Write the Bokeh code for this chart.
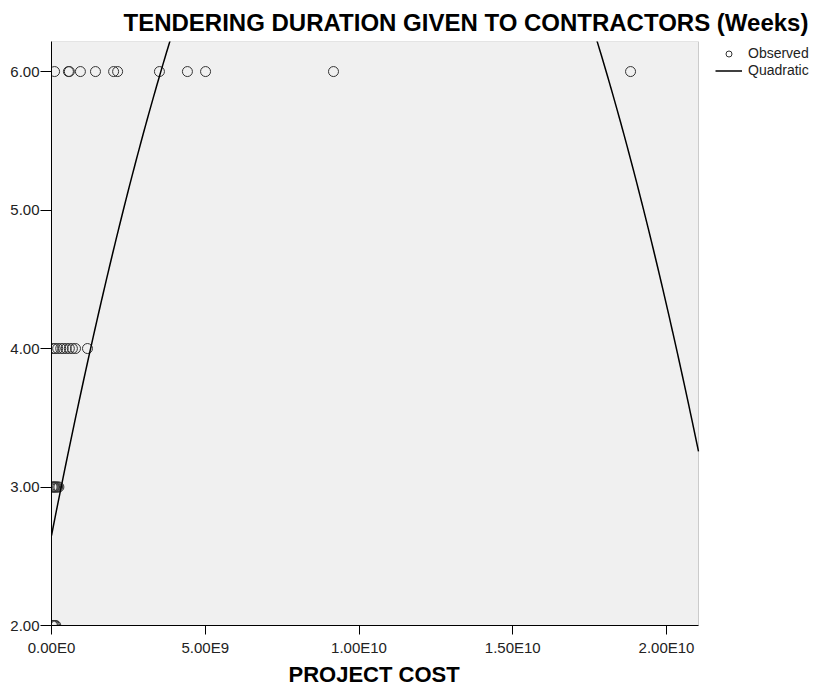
import numpy as np
from bokeh.plotting import figure
from bokeh.models import (FixedTicker, Legend, LegendItem, Range1d,
                          BoxAnnotation, Title)
from bokeh.embed import file_html
from bokeh.resources import INLINE

# ---- data (project cost in currency units, duration in weeks) ----
cost_6wk = [0.10e9, 0.55e9, 0.58e9, 0.94e9, 1.43e9, 2.02e9, 2.15e9,
            3.51e9, 4.42e9, 5.01e9, 9.17e9, 18.83e9]
cost_4wk = [0.05e9, 0.12e9, 0.20e9, 0.30e9, 0.38e9, 0.48e9, 0.58e9,
            0.68e9, 0.78e9, 1.17e9]
cost_3wk = [0.02e9, 0.05e9, 0.08e9, 0.10e9, 0.13e9, 0.16e9, 0.20e9, 0.24e9]
cost_2wk = [0.03e9, 0.06e9, 0.10e9, 0.14e9]
durations = [6, 4, 3, 2]

# quadratic fit coefficients: y = a + b*x + c*x^2
quad_a = 2.65
quad_b = 1.128e-9
quad_c = -5.224e-20

x_ticks = [0, 5000000000, 10000000000, 15000000000, 20000000000]
x_tick_labels = ["0.00E0", "5.00E9", "1.00E10", "1.50E10", "2.00E10"]
y_ticks = [2, 3, 4, 5, 6]
y_tick_labels = ["2.00", "3.00", "4.00", "5.00", "6.00"]

x_max = 2.104e10          # right edge of the plot area
y_min, y_max = 2.0, 6.217

# ---- layout constants ----
PLOT_W = 647               # width of the grey plot area (px)
LEGEND_W = 120             # room on the right for the legend (px)
FONT = "Liberation Sans"

# ---- build ----
xs, ys = [], []
for costs, d in zip([cost_6wk, cost_4wk, cost_3wk, cost_2wk], durations):
    xs += costs
    ys += [d] * len(costs)

x_fit = np.linspace(0, x_max, 400)
y_fit = quad_a + quad_b * x_fit + quad_c * x_fit ** 2

# the frame also covers the legend strip, so the legend is not clipped
x_view_end = x_max * (PLOT_W + LEGEND_W) / PLOT_W

p = figure(frame_width=PLOT_W + LEGEND_W, frame_height=584,
           output_backend="svg", toolbar_location=None,
           x_range=Range1d(0, x_view_end), y_range=Range1d(y_min, y_max),
           min_border_left=51, min_border_right=0, min_border_top=40,
           min_border_bottom=65)

p.background_fill_color = "white"
p.border_fill_color = "white"
p.outline_line_color = None
p.grid.visible = False

plot_area = BoxAnnotation(left=0, right=x_max, bottom=y_min, top=y_max,
                          fill_color="#f0f0f0", fill_alpha=1.0,
                          line_color="#666666", line_width=1,
                          level="underlay")
p.add_layout(plot_area)

p.title.text = "TENDERING DURATION GIVEN TO CONTRACTORS (Weeks)"
p.title.align = "left"
p.title.offset = 72
p.title.standoff = 12
p.title.text_font = FONT
p.title.text_font_size = "24px"
p.title.text_font_style = "bold"
p.title.text_color = "black"

for ax in (p.xaxis[0], p.yaxis[0]):
    ax.axis_line_color = "black"
    ax.major_tick_line_color = "black"
    ax.major_tick_in = 0
    ax.minor_tick_in = 0
    ax.minor_tick_out = 0
    ax.major_label_text_font = FONT
    ax.major_label_text_font_size = "15px"
    ax.major_label_text_color = "#222222"

p.xaxis.bounds = (0, x_max)
p.xaxis.ticker = FixedTicker(ticks=x_ticks)
p.xaxis.major_label_overrides = dict(zip(x_ticks, x_tick_labels))
p.xaxis.major_tick_out = 9
p.xaxis.major_label_standoff = 4

# x-axis title, centred under the grey plot area
x_title = Title(text="PROJECT COST", align="left", offset=237, standoff=3,
                text_font=FONT, text_font_size="22px",
                text_font_style="bold", text_color="black")
p.add_layout(x_title, "below")

p.yaxis.ticker = FixedTicker(ticks=y_ticks)
p.yaxis.major_label_overrides = dict(zip(y_ticks, y_tick_labels))
p.yaxis.major_tick_out = 11
p.yaxis.major_label_standoff = 1

sc = p.scatter(xs, ys, marker="circle", size=10, fill_color=None,
               line_color="#333333", line_width=1)
ln = p.line(x_fit, y_fit, line_color="black", line_width=1.5)

legend_style = dict(margin=0, padding=3, spacing=0, glyph_width=27,
                    glyph_height=15, label_height=15, label_standoff=6,
                    border_line_color=None, background_fill_alpha=0,
                    label_text_font=FONT, label_text_font_size="14px",
                    label_text_color="#222222")
legend_obs = Legend(items=[LegendItem(label="Observed", renderers=[sc])],
                    location=(PLOT_W + 17, 564), **legend_style)
legend_fit = Legend(items=[LegendItem(label="Quadratic", renderers=[ln])],
                    location=(PLOT_W + 17, 547), **legend_style)
p.add_layout(legend_obs, "center")
p.add_layout(legend_fit, "center")

open("out.html", "w").write(file_html(p, INLINE))
